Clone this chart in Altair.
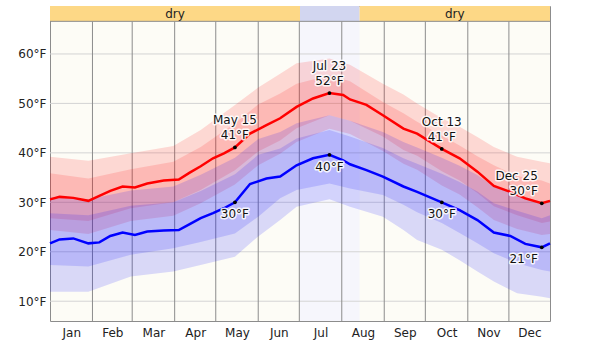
import json
import altair as alt
import pandas as pd

# ---------------- data ----------------
MONTHS = ["Jan", "Feb", "Mar", "Apr", "May", "Jun", "Jul", "Aug", "Sep", "Oct", "Nov", "Dec"]
MONTH_STARTS = [0, 31, 60, 91, 121, 152, 182, 213, 244, 274, 305, 335]
YEAR_END = 365

# average daily high / low (°F), day of year
LINE_DAYS = [0, 7, 17, 28, 36, 44, 53, 62, 71, 83, 94, 102, 110, 119, 127, 135, 146, 158,
             168, 180, 192, 204, 214, 219, 231, 243, 258, 268, 286, 299, 312, 324, 336,
             347, 359, 365]
HIGH_MEAN = [30.6, 31.1, 30.9, 30.3, 31.3, 32.3, 33.2, 33.0, 33.8, 34.4, 34.6, 36.0, 37.3,
             38.9, 39.9, 41.1, 43.9, 45.6, 47.0, 49.3, 51.0, 52.1, 51.7, 50.8, 49.7, 47.6,
             44.9, 43.9, 40.8, 38.9, 36.2, 33.3, 32.1, 30.8, 29.8, 30.3]
LOW_MEAN = [21.7, 22.5, 22.7, 21.7, 21.9, 23.2, 23.9, 23.4, 24.1, 24.3, 24.4, 25.6, 26.8,
            27.8, 28.8, 30.0, 33.7, 34.8, 35.2, 37.5, 38.9, 39.6, 38.5, 37.7, 36.5, 35.2,
            33.2, 32.1, 30.0, 28.4, 26.4, 23.9, 23.2, 21.6, 20.9, 21.7]

# percentile bands
BAND_DAYS = [0, 28, 59, 90, 110, 135, 152, 168, 180, 204, 219, 243, 258, 268, 286, 299,
             312, 324, 341, 359, 365]
HIGH_P90 = [39.2, 38.4, 39.9, 41.4, 44.6, 49.7, 53.2, 56.0, 58.1, 59.1, 57.8, 54.0, 51.8,
            50.0, 47.0, 45.3, 43.2, 41.2, 39.2, 38.2, 37.9]
HIGH_P75 = [35.9, 34.8, 36.7, 38.2, 41.2, 46.0, 49.8, 52.0, 54.0, 55.7, 54.5, 50.3, 48.0,
            46.3, 43.5, 41.5, 39.3, 37.5, 35.3, 34.4, 33.8]
HIGH_P25 = [26.8, 26.2, 28.8, 30.0, 32.5, 36.5, 40.3, 42.5, 45.0, 47.6, 46.5, 43.3, 40.6,
            39.4, 36.3, 34.4, 31.9, 29.2, 27.4, 25.8, 26.1]
HIGH_P10 = [24.4, 23.6, 26.2, 27.3, 29.8, 33.6, 37.5, 39.8, 42.2, 44.9, 43.8, 40.4, 37.8,
            36.6, 33.4, 31.6, 29.0, 26.4, 24.6, 23.4, 23.6]
LOW_P90 = [31.0, 30.6, 32.4, 33.2, 35.6, 39.0, 42.8, 44.2, 46.0, 47.6, 46.5, 44.2, 42.2,
           41.1, 39.0, 37.4, 35.5, 33.2, 31.6, 30.0, 30.5]
LOW_P75 = [27.8, 27.4, 29.3, 30.0, 32.3, 35.7, 39.6, 40.9, 42.9, 44.6, 43.3, 41.0, 38.9,
           37.8, 35.8, 34.1, 32.2, 29.8, 28.3, 26.8, 27.4]
LOW_P25 = [17.3, 17.0, 19.4, 20.7, 22.0, 23.7, 27.1, 30.8, 32.5, 33.8, 32.8, 31.5, 29.5,
           28.0, 25.8, 23.8, 21.7, 19.7, 17.7, 16.3, 16.0]
LOW_P10 = [11.9, 11.9, 15.0, 16.0, 17.3, 19.0, 23.1, 26.4, 29.1, 30.6, 29.1, 27.1, 24.4,
           22.4, 20.4, 18.3, 16.0, 14.0, 11.6, 10.9, 10.6]

# seasons (top strip)
SEASON_START = [0, 182.5, 226]
SEASON_END = [182.5, 226, 365]
SEASON_KIND = ["dry", "wet", "dry"]
SEASON_LABEL = ["dry", "", "dry"]

# annotations
ANN_DAY = [135, 204, 286, 359]
ANN_DATE = ["May 15", "Jul 23", "Oct 13", "Dec 25"]
ANN_HIGH = [41.1, 52.1, 40.8, 29.8]
ANN_HIGH_LABEL = ["41°F", "52°F", "41°F", "30°F"]
ANN_LOW = [30.0, 39.6, 30.0, 20.9]
ANN_LOW_LABEL = ["30°F", "40°F", "30°F", "21°F"]

Y_TICKS = [10, 20, 30, 40, 50, 60]
Y_MIN, PLOT_TOP, Y_MAX = 6.0, 66.6, 69.7

# ---------------- tables ----------------
lines = pd.DataFrame({"day": LINE_DAYS, "high": HIGH_MEAN, "low": LOW_MEAN})
bands = pd.DataFrame({"day": BAND_DAYS, "h90": HIGH_P90, "h75": HIGH_P75, "h25": HIGH_P25,
                      "h10": HIGH_P10, "l90": LOW_P90, "l75": LOW_P75, "l25": LOW_P25,
                      "l10": LOW_P10})
seasons = pd.DataFrame({"start": SEASON_START, "end": SEASON_END, "kind": SEASON_KIND,
                        "label": SEASON_LABEL})
ann_high = pd.DataFrame({"day": ANN_DAY, "v": ANN_HIGH, "date": ANN_DATE, "temp": ANN_HIGH_LABEL})
ann_low = pd.DataFrame({"day": ANN_DAY, "v": ANN_LOW, "temp": ANN_LOW_LABEL})
months = pd.DataFrame({"day": MONTH_STARTS[1:]})
yticks = pd.DataFrame({"v": Y_TICKS})

mids = [(s + e) / 2 for s, e in zip(MONTH_STARTS, MONTH_STARTS[1:] + [YEAR_END])]
label_expr = f"{json.dumps(MONTHS)}[indexof({json.dumps(mids)}, datum.value)]"

FONT = "DejaVu Sans"
xs = alt.Scale(domain=[0, YEAR_END], nice=False, zero=False)
ys = alt.Scale(domain=[Y_MIN, Y_MAX], nice=False, zero=False)

x_axis = alt.Axis(values=mids, labelExpr=label_expr, grid=False, ticks=False, domain=False,
                  labelFont=FONT, labelFontSize=12, labelColor="#222", labelPadding=6,
                  title=None)
y_axis = alt.Axis(values=Y_TICKS, labelExpr="datum.value + '°F'", grid=False, ticks=False,
                  domain=False, labelFont=FONT, labelFontSize=12, labelColor="#222",
                  labelPadding=4, title=None)


def X(f):
    return alt.X(f, scale=xs, axis=x_axis)


def Y(f):
    return alt.Y(f, scale=ys, axis=y_axis)


# wet-season background
wet_bg = alt.Chart(seasons).transform_filter("datum.kind == 'wet'").transform_calculate(
    ylo=str(Y_MIN), yhi=str(PLOT_TOP)
).mark_rect(fill="#f6f6fc").encode(
    x=X("start:Q"), x2="end:Q", y=Y("ylo:Q"), y2="yhi:Q",
)

hgrid = alt.Chart(yticks).mark_rule(color="#d4d4d4", strokeWidth=1).encode(y=Y("v:Q"))

vgrid = alt.Chart(months).transform_calculate(ylo=str(Y_MIN), yhi=str(PLOT_TOP)).mark_rule(
    color="#8c8c8c", strokeWidth=1
).encode(x=X("day:Q"), y=Y("ylo:Q"), y2="yhi:Q")


def band(lo, hi, color):
    return alt.Chart(bands).mark_area(color=color, opacity=0.14, interpolate="linear").encode(
        x=X("day:Q"), y=Y(f"{lo}:Q"), y2=f"{hi}:Q",
    )


red_out = band("h10", "h90", "#ff0000")
red_mid = band("h25", "h75", "#ff0000")
blue_out = band("l10", "l90", "#0000ff")
blue_mid = band("l25", "l75", "#0000ff")

high_line = alt.Chart(lines).mark_line(color="#ff0000", strokeWidth=2.5).encode(
    x=X("day:Q"), y=Y("high:Q")
)
low_line = alt.Chart(lines).mark_line(color="#0000ff", strokeWidth=2.5).encode(
    x=X("day:Q"), y=Y("low:Q")
)

pts_high = alt.Chart(ann_high).mark_circle(color="black", size=14, opacity=1).encode(
    x=X("day:Q"), y=Y("v:Q")
)
pts_low = alt.Chart(ann_low).mark_circle(color="black", size=14, opacity=1).encode(
    x=X("day:Q"), y=Y("v:Q")
)


def labels(df, field, dy, edge):
    cond = "datum.day > 350" if edge else "datum.day <= 350"
    kw = dict(align="right", dx=-4) if edge else dict(align="center")
    base = alt.Chart(df).transform_filter(cond)
    enc = dict(x=X("day:Q"), y=Y("v:Q"), text=f"{field}:N")
    halo = base.mark_text(font=FONT, fontSize=12, dy=dy, baseline="middle", fill="white",
                          stroke="white", strokeWidth=3, strokeJoin="round",
                          strokeOpacity=0.85, **kw).encode(**enc)
    txt = base.mark_text(font=FONT, fontSize=12, dy=dy, baseline="middle", fill="#111",
                         **kw).encode(**enc)
    return [halo, txt]


ann_layers = []
for edge in (False, True):
    ann_layers += labels(ann_high, "date", -27, edge)
    ann_layers += labels(ann_high, "temp", -12, edge)
    ann_layers += labels(ann_low, "temp", 12, edge)

strip = alt.Chart(seasons).transform_calculate(ylo=str(PLOT_TOP), yhi=str(Y_MAX)).mark_rect().encode(
    x=X("start:Q"), x2="end:Q", y=Y("ylo:Q"), y2="yhi:Q",
    color=alt.Color("kind:N", scale=alt.Scale(domain=["dry", "wet"],
                                             range=["#fdd886", "#d2d6f0"]), legend=None),
)
strip_text = alt.Chart(seasons).transform_calculate(
    mid="(datum.start + datum.end) / 2", ym=str((PLOT_TOP + Y_MAX) / 2)
).mark_text(font=FONT, fontSize=12, color="#222", baseline="middle").encode(
    x=X("mid:Q"), y=Y("ym:Q"), text="label:N",
)
strip_line = alt.Chart(pd.DataFrame({"v": [PLOT_TOP]})).mark_rule(color="#8c8c8c").encode(
    y=Y("v:Q")
)

chart = alt.layer(
    wet_bg, hgrid, vgrid, red_out, red_mid, blue_out, blue_mid, high_line, low_line,
    pts_high, pts_low, *ann_layers, strip, strip_text, strip_line
).properties(
    width=500, height=315, autosize=alt.AutoSizeParams(type="none"),
    padding={"left": 50, "top": 6, "right": 50, "bottom": 23},
).configure_view(fill="#fdfcf6", stroke="#8c8c8c", strokeWidth=1)

chart.save("out.html", embed_options={"renderer": "svg", "actions": False})
